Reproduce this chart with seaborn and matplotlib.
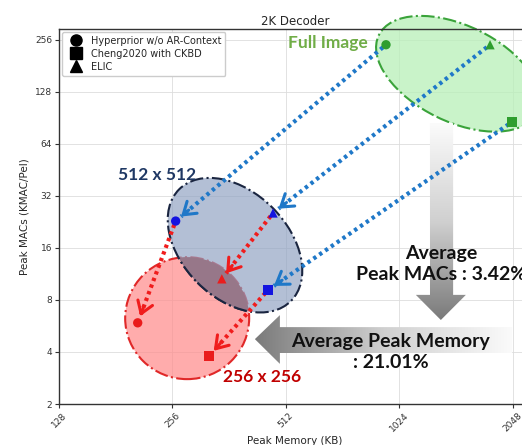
import numpy as np
import pandas as pd
import seaborn as sns, matplotlib.pyplot as plt
from matplotlib.patches import Ellipse, Polygon
from matplotlib.lines import Line2D
from matplotlib.ticker import NullLocator
from matplotlib.transforms import IdentityTransform
from matplotlib.colors import LinearSegmentedColormap

# values (memory in KB, MACs in KMAC/pel)
models = ["Hyperprior w/o AR-Context", "Cheng2020 with CKBD", "ELIC"]
full_mem = [943, 2036, 1780]
full_macs = [240, 85.8, 240]
r512_mem = [261, 459, 473]
r512_macs = [22.9, 9.15, 25.5]
r256_mem = [207, 320, 346]
r256_macs = [5.9, 3.79, 10.6]

x_ticks = [128, 256, 512, 1024, 2048]
y_ticks = [2, 4, 8, 16, 32, 64, 128, 256]

sns.set_theme(style="whitegrid")
plt.rcParams['font.family'] = ['DejaVu Sans']
label_font = ['Lato', 'DejaVu Sans']

df = pd.DataFrame({
    "mem": full_mem + r512_mem + r256_mem,
    "macs": full_macs + r512_macs + r256_macs,
    "res": ["full"] * 3 + ["512"] * 3 + ["256"] * 3,
    "model": models * 3,
})
res_colors = {"full": "#2e9e2e", "512": "#1414e0", "256": "#ea1c1c"}
model_markers = dict(zip(models, ["o", "s", "^"]))

fig = plt.figure(figsize=(5.22, 4.45), dpi=100)
ax = fig.add_axes([59 / 522, 41 / 445, 472 / 522, 375 / 445])
ax.set_xscale('log', base=2)
ax.set_yscale('log', base=2)
ax.set_xlim(128, 2286)
ax.set_ylim(2, 296)

sns.scatterplot(data=df, x="mem", y="macs", hue="res", style="model",
                palette=res_colors, markers=model_markers, s=45,
                edgecolor="none", legend=False, ax=ax, zorder=6)


def to_px(x, y):
    return np.asarray(ax.transData.transform((x, y)))


def add_ellipse(center, w, h, angle, face, edge, z):
    cx, cy = to_px(*center)
    e = Ellipse((cx, cy), w, h, angle=angle, transform=IdentityTransform(),
                facecolor=face, edgecolor=edge, lw=1.5, ls='-.', zorder=z,
                clip_on=False)
    ax.add_patch(e)
    return e


green = add_ellipse((1463, 163), 176, 96, -26, (0.72, 0.94, 0.72, 0.75), "#3aa33a", 2)
red = add_ellipse((280, 6.28), 124, 122, 0, (1.0, 0.55, 0.55, 0.72), "#e02828", 2)
blue = add_ellipse((375, 16.6), 158, 106, -45, (0.56, 0.63, 0.76, 0.68), "#1a2540", 2.1)
# darker patch where the two ellipses overlap
cx, cy = to_px(375, 16.6)
overlap = Ellipse((cx, cy), 158, 106, angle=-45, transform=IdentityTransform(),
                  facecolor="#977789", edgecolor="#1a2540", lw=1.5, ls='-.', zorder=2.2)
ax.add_patch(overlap)
overlap.set_clip_path(red)


def gradient_arrow(verts, vertical, z):
    poly = Polygon(verts, closed=True, transform=ax.transAxes,
                   facecolor='none', edgecolor='none')
    ax.add_patch(poly)
    xs = [v[0] for v in verts]
    ys = [v[1] for v in verts]
    if vertical:
        grad = np.linspace(0, 1, 256).reshape(-1, 1)
    else:
        grad = np.linspace(1, 0, 256).reshape(1, -1)
    cmap = LinearSegmentedColormap.from_list("g", ["#fbfbfb", "#d0d0d0", "#7a7a7a"])
    im = ax.imshow(grad, cmap=cmap, aspect='auto', origin='upper',
                   extent=(min(xs), max(xs), min(ys), max(ys)),
                   transform=ax.transAxes, zorder=z, interpolation='bilinear')
    im.set_clip_path(poly)


gradient_arrow([(0.786, 0.749), (0.835, 0.749), (0.835, 0.291), (0.862, 0.291),
                (0.809, 0.224), (0.756, 0.291), (0.786, 0.291)], True, 3)
gradient_arrow([(0.415, 0.173), (0.468, 0.237), (0.468, 0.205), (0.960, 0.205),
                (0.960, 0.136), (0.468, 0.136), (0.468, 0.107)], False, 3)


def dotted_arrow(src, dst, color):
    p0 = to_px(*src)
    p1 = to_px(*dst)
    u = (p1 - p0) / np.linalg.norm(p1 - p0)
    start = p0 + u * 4
    end = p1 - u * 7
    ax.plot([start[0], end[0]], [start[1], end[1]], transform=IdentityTransform(),
            color=color, lw=3, ls=(0, (0.8, 0.9)), zorder=4)
    ax.annotate('', xy=end, xytext=end - u * 10, xycoords='figure pixels',
                arrowprops=dict(arrowstyle='->,head_length=0.6,head_width=0.4',
                                lw=2.2, color=color, shrinkA=0, shrinkB=0,
                                mutation_scale=14), zorder=4)


for i in range(3):
    dotted_arrow((full_mem[i], full_macs[i]), (r512_mem[i], r512_macs[i]), "#1f78c8")
    dotted_arrow((r512_mem[i], r512_macs[i]), (r256_mem[i], r256_macs[i]), "#f01c1c")

ax.text(0.655, 0.963, "Full Image", transform=ax.transAxes, ha='right', va='center',
        fontsize=12.5, fontweight='bold', color="#70ad47", family=label_font, zorder=7)
ax.text(0.208, 0.611, "512 x 512", transform=ax.transAxes, ha='center', va='center',
        fontsize=12.5, fontweight='bold', color="#1f3864", family=label_font, zorder=7)
ax.text(0.430, 0.072, "256 x 256", transform=ax.transAxes, ha='center', va='center',
        fontsize=12.5, fontweight='bold', color="#c00000", family=label_font, zorder=7)
ax.text(0.809, 0.373, "Average\nPeak MACs : 3.42%", transform=ax.transAxes,
        ha='center', va='center', fontsize=14, fontweight='bold', color="#111111",
        family=label_font, linespacing=1.25, zorder=7)
ax.text(0.703, 0.139, "Average Peak Memory\n: 21.01%", transform=ax.transAxes,
        ha='center', va='center', fontsize=14, fontweight='bold', color="#111111",
        family=label_font, linespacing=1.25, zorder=7)

ax.set_xticks(x_ticks)
ax.set_xticklabels([str(t) for t in x_ticks], rotation=45, ha='center')
ax.set_yticks(y_ticks)
ax.set_yticklabels([str(t) for t in y_ticks])
ax.xaxis.set_minor_locator(NullLocator())
ax.yaxis.set_minor_locator(NullLocator())
ax.set_xlim(128, 2286)
ax.set_ylim(2, 296)
ax.tick_params(axis='both', length=3, width=0.8, color='#333333',
               labelcolor='#333333', labelsize=6.5, pad=2, left=True, bottom=True)
ax.grid(True, color='#dddddd', lw=0.6)
for s in ax.spines.values():
    s.set_color('#333333')
    s.set_linewidth(1)

ax.set_title("2K Decoder", fontsize=8.5, pad=3)
ax.set_xlabel("Peak Memory (KB)", fontsize=7.5, labelpad=2)
ax.set_ylabel("Peak MACs (KMAC/Pel)", fontsize=7.5, labelpad=4)

handles = [Line2D([], [], marker=model_markers[m], color='black', ls='none',
                  markersize=8, label=m) for m in models]
ax.legend(handles=handles, loc='upper left', fontsize=7, frameon=True, framealpha=1,
          edgecolor='#cccccc', borderaxespad=0.3, handletextpad=0.6,
          labelspacing=0.3).set_zorder(10)

fig.savefig("out.png", dpi=100)
